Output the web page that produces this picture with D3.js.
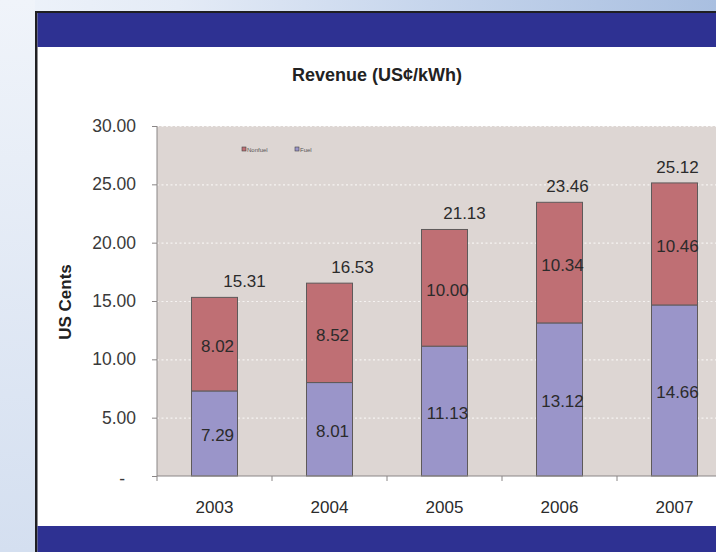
<!DOCTYPE html>
<html>
<head>
<meta charset="utf-8">
<script src="https://cdn.jsdelivr.net/npm/d3@7"></script>
<style>
  html, body { margin: 0; padding: 0; background: #ffffff; }
  svg { display: block; }
  text { font-family: "Liberation Sans", Arial, sans-serif; }
</style>
</head>
<body>
<svg id="chart" width="716" height="552"></svg>
<script>
// ---- data ----
const years = ["2003", "2004", "2005", "2006", "2007"];
const fuel = [7.29, 8.01, 11.13, 13.12, 14.66];
const nonfuel = [8.02, 8.52, 10.00, 10.34, 10.46];
const totals = [15.31, 16.53, 21.13, 23.46, 25.12];
const yTicks = [0, 5, 10, 15, 20, 25, 30];
const seriesNames = ["Nonfuel", "Fuel"];

// ---- layout ----
const W = 716, H = 552;
const plot = { left: 157, top: 126, right: 732, bottom: 476 };
const totalLabelNudge = [30, 23, 20, 8, 3];

const svg = d3.select("#chart");
const defs = svg.append("defs");
const bgGrad = defs.append("linearGradient").attr("id", "bg").attr("x1", 0).attr("x2", 1).attr("y1", 0).attr("y2", 0);
bgGrad.append("stop").attr("offset", 0).attr("stop-color", "#eef3fa");
bgGrad.append("stop").attr("offset", 0.25).attr("stop-color", "#e4ebf6");
bgGrad.append("stop").attr("offset", 0.6).attr("stop-color", "#c6d5ec");
bgGrad.append("stop").attr("offset", 1).attr("stop-color", "#a9bfe0");
const leftGrad = defs.append("linearGradient").attr("id", "leftbg").attr("x1", 0).attr("x2", 0).attr("y1", 0).attr("y2", 1);
leftGrad.append("stop").attr("offset", 0).attr("stop-color", "#f0f4fa");
leftGrad.append("stop").attr("offset", 1).attr("stop-color", "#d4dff0");

svg.append("rect").attr("width", W).attr("height", H).attr("fill", "url(#bg)");
svg.append("rect").attr("width", 35).attr("height", H).attr("fill", "url(#leftbg)");

// frame
svg.append("rect").attr("x", 35).attr("y", 11).attr("width", W).attr("height", H).attr("fill", "#1f1f22");
svg.append("rect").attr("x", 37.5).attr("y", 13).attr("width", W).attr("height", H).attr("fill", "#ffffff");
svg.append("rect").attr("x", 37.5).attr("y", 13).attr("width", W).attr("height", 34).attr("fill", "#2e3192");
svg.append("rect").attr("x", 37.5).attr("y", 526).attr("width", W).attr("height", 30).attr("fill", "#2e3192");

// title
svg.append("text").attr("x", 377).attr("y", 81).attr("text-anchor", "middle")
  .attr("font-size", 18).attr("font-weight", "bold").attr("fill", "#222")
  .text("Revenue (US¢/kWh)");

// scales
const x = d3.scaleBand().domain(years).range([plot.left, plot.right]).paddingInner(0.6).paddingOuter(0.3);
const xb = d3.scaleBand().domain(years).range([plot.left, plot.right]);
const y = d3.scaleLinear().domain([0, 30]).range([plot.bottom, plot.top]);

// plot background
svg.append("rect").attr("x", plot.left).attr("y", plot.top)
  .attr("width", plot.right - plot.left).attr("height", plot.bottom - plot.top)
  .attr("fill", "#ddd6d3");

// gridlines
svg.append("g").selectAll("line").data(yTicks.filter(d => d > 0)).join("line")
  .attr("x1", plot.left).attr("x2", plot.right)
  .attr("y1", d => y(d) + 0.5).attr("y2", d => y(d) + 0.5)
  .attr("stroke", "#f6f3f2").attr("stroke-width", 1.2).attr("stroke-dasharray", "2,2.5");

// stacked bars
const stackData = years.map((yr, i) => ({ year: yr, Fuel: fuel[i], Nonfuel: nonfuel[i] }));
const stack = d3.stack().keys(["Fuel", "Nonfuel"])(stackData);
const colors = { Fuel: "#9a95c9", Nonfuel: "#bf6f74" };

const layers = svg.append("g").selectAll("g").data(stack).join("g")
  .attr("fill", d => colors[d.key]);
layers.selectAll("rect").data(d => d).join("rect")
  .attr("x", d => x(d.data.year))
  .attr("width", x.bandwidth())
  .attr("y", d => y(d[1]))
  .attr("height", d => y(d[0]) - y(d[1]))
  .attr("stroke", "#5e5a5a").attr("stroke-width", 1);

// segment labels
layers.selectAll("text").data(d => d).join("text")
  .attr("x", d => x(d.data.year) + x.bandwidth() / 2 + 3)
  .attr("y", d => (y(d[0]) + y(d[1])) / 2 + 2)
  .attr("dy", "0.35em")
  .attr("text-anchor", "middle").attr("font-size", 17).attr("fill", "#2b2b2b")
  .text(d => (d[1] - d[0]).toFixed(2));

// total labels
svg.append("g").selectAll("text").data(totals).join("text")
  .attr("x", (d, i) => x(years[i]) + x.bandwidth() / 2 + totalLabelNudge[i])
  .attr("y", d => y(d) - 10)
  .attr("text-anchor", "middle").attr("font-size", 17).attr("fill", "#2b2b2b")
  .text(d => d.toFixed(2));

// y axis
const yAxis = svg.append("g").attr("transform", `translate(${plot.left},0)`)
  .call(d3.axisLeft(y).tickValues(yTicks).tickSize(5).tickFormat(d => d === 0 ? "-" : d.toFixed(2)));
yAxis.select(".domain").attr("stroke", "#8a8686").attr("d", `M0,${plot.top}V${plot.bottom}`);
yAxis.selectAll(".tick line").attr("stroke", "#8a8686");
yAxis.selectAll(".tick text").attr("font-size", 17.5).attr("fill", "#3a3a3a")
  .attr("font-family", "'Liberation Sans', Arial, sans-serif")
  .attr("x", d => d === 0 ? -32 : -21).attr("dy", d => d === 0 ? "0.5em" : "0.32em");

// x axis
const xAxis = svg.append("g").attr("transform", `translate(0,${plot.bottom})`)
  .call(d3.axisBottom(xb).tickSize(0).tickPadding(25));
xAxis.select(".domain").attr("stroke", "#8a8686").attr("d", `M${plot.left},0H${plot.right}`);
xAxis.selectAll(".tick text").attr("font-size", 17).attr("fill", "#2b2b2b")
  .attr("font-family", "'Liberation Sans', Arial, sans-serif");
// boundary ticks
svg.append("g").selectAll("line").data(years.concat(["end"])).join("line")
  .attr("x1", (d, i) => plot.left + i * xb.step()).attr("x2", (d, i) => plot.left + i * xb.step())
  .attr("y1", plot.bottom).attr("y2", plot.bottom + 5)
  .attr("stroke", "#8a8686");

// y axis title
svg.append("text").attr("transform", "translate(71,302) rotate(-90)")
  .attr("text-anchor", "middle").attr("font-size", 17).attr("font-weight", "bold").attr("fill", "#222")
  .text("US Cents");

// legend
const legend = svg.append("g").attr("transform", "translate(242,150)");
const legendColors = { Nonfuel: colors.Nonfuel, Fuel: colors.Fuel };
const lx = [0, 53];
seriesNames.forEach((name, i) => {
  const g = legend.append("g").attr("transform", `translate(${lx[i]},0)`);
  g.append("rect").attr("x", 0).attr("y", -3).attr("width", 4).attr("height", 4)
    .attr("fill", legendColors[name]).attr("stroke", "#444").attr("stroke-width", 0.6);
  g.append("text").attr("x", 5).attr("y", 1.5).attr("font-size", 6).attr("fill", "#555").text(name);
});
</script>
</body>
</html>
